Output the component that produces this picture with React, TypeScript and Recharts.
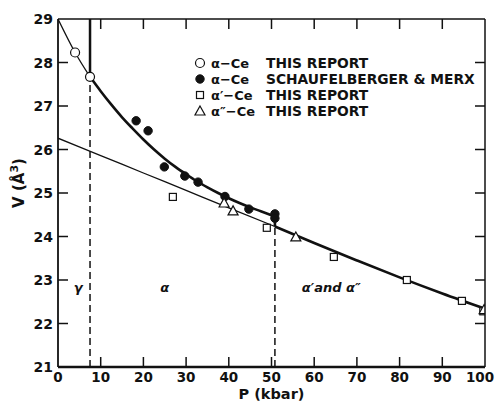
import React from 'react';
import {
  ComposedChart, Line, Scatter, XAxis, YAxis, ReferenceLine, ReferenceDot, Legend,
} from 'recharts';

// pressure (kbar) / volume (Å^3)
const upperThinP = [0, 4, 7.5];
const upperThinV = [29.0, 28.23, 27.67];
const upperThickP = [7.5, 10, 12.5, 15, 17.5, 20, 22.5, 25, 27.5, 30, 32.5, 35, 37.5, 40, 42.5, 45, 47.5, 50.8];
const upperThickV = [27.67, 27.34, 27.03, 26.74, 26.48, 26.23, 26.0, 25.79, 25.6, 25.43, 25.27, 25.13, 25.0, 24.88, 24.77, 24.67, 24.58, 24.46];
const dropP = [50.8, 50.8];
const dropV = [24.46, 24.23];
const lowerThinP = [0, 10, 20, 30, 40, 50.8];
const lowerThinV = [26.26, 25.86, 25.46, 25.06, 24.66, 24.23];
const lowerThickP = [50.8, 60, 70, 80, 90, 100];
const lowerThickV = [24.23, 23.85, 23.45, 23.06, 22.69, 22.34];

const alphaP = [4.0, 7.5];
const alphaV = [28.23, 27.67];
const smP = [18.3, 21.1, 24.9, 29.7, 32.8, 39.1, 44.7, 50.8, 50.8];
const smV = [26.66, 26.43, 25.6, 25.39, 25.25, 24.92, 24.63, 24.52, 24.42];
const alpha1P = [26.9, 48.9, 64.6, 81.7, 94.6, 99.6];
const alpha1V = [24.91, 24.2, 23.53, 23.0, 22.52, 22.28];
const alpha2P = [38.9, 41.0, 55.7, 99.8];
const alpha2V = [24.77, 24.59, 23.99, 22.32];

const xTicks = [0, 10, 20, 30, 40, 50, 60, 70, 80, 90, 100];
const yTicks = [21, 22, 23, 24, 25, 26, 27, 28, 29];

const gammaP = 7.5;
const gammaV = 27.67;
const primeP = 50.8;
const primeV = 24.23;

const legendRows = [
  { sym: 'open', name: 'α−Ce', src: 'THIS REPORT' },
  { sym: 'filled', name: 'α−Ce', src: 'SCHAUFELBERGER & MERX' },
  { sym: 'square', name: 'α′−Ce', src: 'THIS REPORT' },
  { sym: 'triangle', name: 'α″−Ce', src: 'THIS REPORT' },
];

const pts = (ps: number[], vs: number[]) => ps.map((p, i) => ({ p, v: vs[i] }));

const INK = '#111';
const FONT = '"DejaVu Sans", Verdana, sans-serif';
const P_MIN = xTicks[0];
const P_MAX = xTicks[xTicks.length - 1];
const V_MIN = yTicks[0];
const V_MAX = yTicks[yTicks.length - 1];

// layout
const W = 495;
const H = 403;
const M_TOP = 19;
const M_RIGHT = 10;
const X_AXIS_H = 36;
const Y_AXIS_W = 58;
const PLOT_W = W - Y_AXIS_W - M_RIGHT;
const PLOT_H = H - M_TOP - X_AXIS_H;
const TICK = 10;

const Marker = ({ kind, cx, cy }: any) => {
  if (kind === 'open') return <circle cx={cx} cy={cy} r={4.5} fill="#fff" stroke={INK} strokeWidth={1.2} />;
  if (kind === 'filled') return <circle cx={cx} cy={cy} r={4.2} fill={INK} stroke={INK} />;
  if (kind === 'square') return <rect x={cx - 3.5} y={cy - 3.5} width={7} height={7} fill="#fff" stroke={INK} strokeWidth={1.2} />;
  return <path d={`M${cx},${cy - 5} L${cx + 5},${cy + 4} L${cx - 5},${cy + 4} Z`} fill="#fff" stroke={INK} strokeWidth={1.2} />;
};

const BottomTick = ({ x, y, payload }: any) => (
  <g>
    {payload.value > P_MIN && payload.value < P_MAX && <line x1={x} y1={y} x2={x} y2={y - TICK} stroke={INK} strokeWidth={1.5} />}
    <text x={payload.value === P_MAX ? x - 5 : x} y={y + 15} textAnchor="middle" fontSize={13.5} fontFamily={FONT} fontWeight="bold" fill={INK}>{payload.value}</text>
  </g>
);
const LeftTick = ({ x, y, payload }: any) => (
  <g>
    {payload.value > V_MIN && payload.value < V_MAX && <line x1={x} y1={y} x2={x + TICK} y2={y} stroke={INK} strokeWidth={1.5} />}
    <text x={x - 5} y={y + 5} textAnchor="end" fontSize={14} fontFamily={FONT} fontWeight="bold" fill={INK}>{payload.value}</text>
  </g>
);

// top and right frame edges with inward ticks, as an overlay above the chart surface
const FrameOverlay = () => {
  const sx = PLOT_W / (P_MAX - P_MIN);
  const sy = PLOT_H / (V_MAX - V_MIN);
  return (
    <svg width={W} height={H} style={{ position: 'absolute', left: 0, top: 0, pointerEvents: 'none' }}>
      <line x1={Y_AXIS_W} y1={M_TOP} x2={Y_AXIS_W + PLOT_W} y2={M_TOP} stroke={INK} strokeWidth={1.5} />
      <line x1={Y_AXIS_W + PLOT_W} y1={M_TOP} x2={Y_AXIS_W + PLOT_W} y2={M_TOP + PLOT_H} stroke={INK} strokeWidth={1.5} />
      {xTicks.slice(1, -1).map((t) => (
        <line key={`t${t}`} x1={Y_AXIS_W + (t - P_MIN) * sx} y1={M_TOP} x2={Y_AXIS_W + (t - P_MIN) * sx} y2={M_TOP + TICK} stroke={INK} strokeWidth={1.5} />
      ))}
      {yTicks.slice(1, -1).map((t) => (
        <line key={`r${t}`} x1={Y_AXIS_W + PLOT_W} y1={M_TOP + (V_MAX - t) * sy} x2={Y_AXIS_W + PLOT_W - TICK} y2={M_TOP + (V_MAX - t) * sy} stroke={INK} strokeWidth={1.5} />
      ))}
    </svg>
  );
};

const LegendBox = () => (
  <svg width={300} height={72}>
    {legendRows.map((r, i) => (
      <g key={i}>
        <Marker kind={r.sym} cx={10} cy={12 + i * 16} />
        <text x={21} y={17 + i * 16} fontSize={13} fontFamily={FONT} fontWeight="bold" fill={INK}>{r.name}</text>
        <text x={76} y={17 + i * 16} fontSize={13.8} fontFamily={FONT} fontWeight="bold" fill={INK}>{r.src}</text>
      </g>
    ))}
  </svg>
);

const RegionText = (txt: string) => ({ cx, cy }: any) => (
  <text x={cx} y={cy} textAnchor="middle" fontSize={13} fontStyle="italic" fontFamily={FONT} fontWeight="bold" fill={INK}>{txt}</text>
);

const YLabel = ({ viewBox }: any) => {
  const cx = viewBox.x + 24;
  const cy = viewBox.y + viewBox.height / 2 - 10;
  return (
    <text x={cx} y={cy} transform={`rotate(-90 ${cx} ${cy})`} textAnchor="middle" fontSize={15} fontFamily={FONT} fontWeight="bold" fill={INK}>
      V (Å<tspan dy={-6} fontSize={11}>3</tspan><tspan dy={6}>)</tspan>
    </text>
  );
};

const XLabel = ({ viewBox }: any) => (
  <text x={viewBox.x + viewBox.width / 2} y={399} textAnchor="middle" fontSize={14.5} fontFamily={FONT} fontWeight="bold" fill={INK}>
    P (kbar)
  </text>
);

export default function App() {
  return (
    <div style={{ position: 'absolute', left: 0, top: 0, width: W, height: H, background: '#fff' }}>
      <ComposedChart width={W} height={H} margin={{ top: M_TOP, right: M_RIGHT, bottom: 0, left: 0 }}>
        <XAxis dataKey="p" type="number" domain={[P_MIN, P_MAX]} ticks={xTicks} allowDataOverflow
          height={X_AXIS_H} tickSize={0} tickMargin={0} tickLine={false} tick={<BottomTick />} interval={0}
          axisLine={{ stroke: INK, strokeWidth: 2.5 }} label={{ content: <XLabel /> }} />
        <YAxis dataKey="v" type="number" domain={[V_MIN, V_MAX]} ticks={yTicks} allowDataOverflow
          width={Y_AXIS_W} tickSize={0} tickMargin={0} tickLine={false} tick={<LeftTick />} interval={0}
          axisLine={{ stroke: INK, strokeWidth: 1.8 }} label={{ content: <YLabel /> }} />

        <ReferenceLine segment={[{ x: gammaP, y: V_MIN }, { x: gammaP, y: gammaV }]} stroke={INK} strokeWidth={1.5} strokeDasharray="7 4" />
        <ReferenceLine segment={[{ x: gammaP, y: gammaV }, { x: gammaP, y: V_MAX }]} stroke={INK} strokeWidth={2.5} />
        <ReferenceLine segment={[{ x: primeP, y: V_MIN }, { x: primeP, y: primeV }]} stroke={INK} strokeWidth={1.5} strokeDasharray="7 4" />

        <Line data={pts(upperThinP, upperThinV)} dataKey="v" type="monotone" stroke={INK} strokeWidth={1.3} dot={false} isAnimationActive={false} legendType="none" />
        <Line data={pts(upperThickP, upperThickV)} dataKey="v" type="monotone" stroke={INK} strokeWidth={2.6} dot={false} isAnimationActive={false} legendType="none" />
        <Line data={pts(dropP, dropV)} dataKey="v" type="linear" stroke={INK} strokeWidth={2.6} dot={false} isAnimationActive={false} legendType="none" />
        <Line data={pts(lowerThinP, lowerThinV)} dataKey="v" type="monotone" stroke={INK} strokeWidth={1.3} dot={false} isAnimationActive={false} legendType="none" />
        <Line data={pts(lowerThickP, lowerThickV)} dataKey="v" type="monotone" stroke={INK} strokeWidth={2.6} dot={false} isAnimationActive={false} legendType="none" />

        <Scatter data={pts(smP, smV)} shape={(p: any) => <Marker kind="filled" cx={p.cx} cy={p.cy} />} isAnimationActive={false} />
        <Scatter data={pts(alpha1P, alpha1V)} shape={(p: any) => <Marker kind="square" cx={p.cx} cy={p.cy} />} isAnimationActive={false} />
        <Scatter data={pts(alpha2P, alpha2V)} shape={(p: any) => <Marker kind="triangle" cx={p.cx} cy={p.cy} />} isAnimationActive={false} />
        <Scatter data={pts(alphaP, alphaV)} shape={(p: any) => <Marker kind="open" cx={p.cx} cy={p.cy} />} isAnimationActive={false} />

        <ReferenceDot x={4.7} y={22.72} r={0} shape={RegionText('γ')} />
        <ReferenceDot x={25} y={22.72} r={0} shape={RegionText('α')} />
        <ReferenceDot x={64} y={22.72} r={0} shape={RegionText('α′and α″')} />

        <Legend layout="vertical" align="center" verticalAlign="middle" content={<LegendBox />}
          wrapperStyle={{ position: 'absolute', left: 190, top: 51, width: 300, height: 72 }} />
      </ComposedChart>
      <FrameOverlay />
    </div>
  );
}
